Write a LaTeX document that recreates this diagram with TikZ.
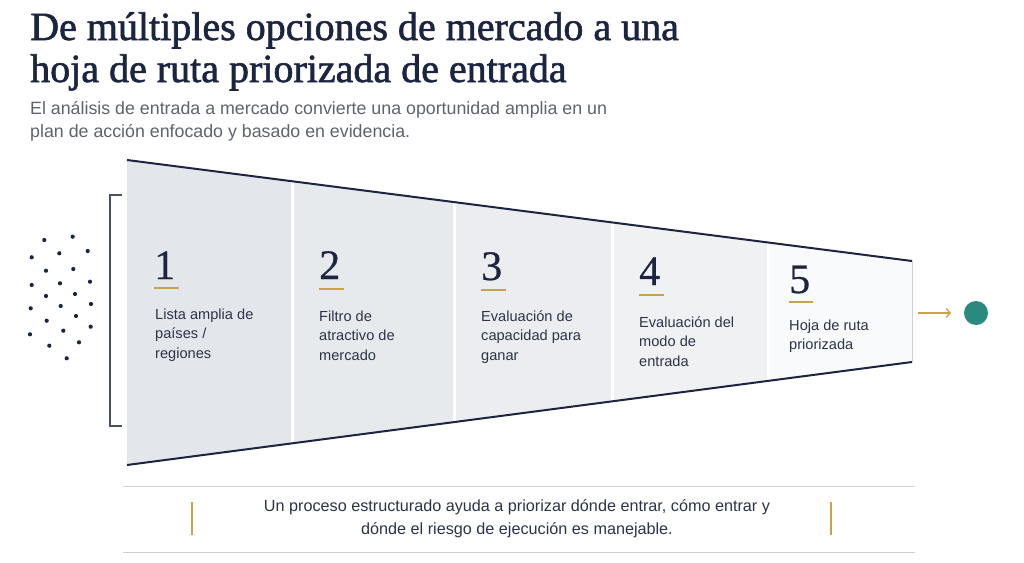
\documentclass[tikz,border=0pt]{standalone}
\usepackage{fontspec}
\setmainfont{Liberation Serif}
\setsansfont{Liberation Sans}
\usetikzlibrary{arrows.meta}
\definecolor{navy}{HTML}{1C2540}
\definecolor{subgray}{HTML}{5E636C}
\definecolor{labeltxt}{HTML}{2B3448}
\definecolor{gold}{HTML}{C9A24A}
\definecolor{teal}{HTML}{2A8A80}
\definecolor{pA}{HTML}{E3E6EA}
\definecolor{pB}{HTML}{E7EAED}
\definecolor{pC}{HTML}{EBEDF0}
\definecolor{pD}{HTML}{EFF1F3}
\definecolor{pE}{HTML}{F9FAFB}
\definecolor{rulegray}{HTML}{CDD0D5}
\tikzset{
  titletext/.style={anchor=base west, inner sep=0pt, text=navy, font=\fontsize{40}{42}\selectfont\addfontfeature{FakeBold=1.5}},
  subtext/.style={anchor=base west, inner sep=0pt, text=subgray, font=\sffamily\fontsize{17.8}{23}\selectfont},
  numtext/.style={anchor=base west, inner sep=0pt, text=navy, font=\fontsize{42}{42}\selectfont\addfontfeature{FakeBold=0.6}},
  labeltext/.style={anchor=base west, inner sep=0pt, text=labeltxt, align=left, font=\sffamily\fontsize{14.6}{19.5}\selectfont},
  goldline/.style={draw=gold, line width=2pt},
  dotstyle/.style={fill=navy, circle, inner sep=0pt, minimum size=4.2pt},
  sepline/.style={draw=white, line width=3pt},
  funnelline/.style={draw=navy, line width=2pt},
  bottomtext/.style={inner sep=0pt, text=labeltxt, align=center, font=\sffamily\fontsize{16.2}{23}\selectfont},
}
\begin{document}
\begin{tikzpicture}[x=1pt,y=-1pt]
\useasboundingbox[fill=white] (0,0) rectangle (1024,562);
% title
\node[titletext] (t1) at (30,40) {De múltiples opciones de mercado a una};
\node[titletext] (t2) at (30,82) {hoja de ruta priorizada de entrada};
\node[subtext] (s1) at (30,114) {El análisis de entrada a mercado convierte una oportunidad amplia en un};
\node[subtext] (s2) at (30,137) {plan de acción enfocado y basado en evidencia.};
% funnel panels
\begin{scope}
\clip (127,160) -- (912,261) -- (912,362) -- (127,465) -- cycle;
\fill[pA] (127,150) rectangle (292,470);
\fill[pB] (292,150) rectangle (454,470);
\fill[pC] (454,150) rectangle (612.5,470);
\fill[pD] (612.5,150) rectangle (768.5,470);
\fill[pE] (768.5,150) rectangle (912,470);
\draw[sepline] (292,150) -- (292,470);
\draw[sepline] (454,150) -- (454,470);
\draw[sepline] (612.5,150) -- (612.5,470);
\draw[sepline] (768.5,150) -- (768.5,470);
\end{scope}
\coordinate (ftl) at (127,160);
\coordinate (ftr) at (912,261);
\coordinate (fbl) at (127,465);
\coordinate (fbr) at (912,362);
\draw[draw=rulegray, line width=0.8pt] (ftr) -- (fbr);
\draw[funnelline] (ftl) -- (ftr);
\draw[funnelline] (fbl) -- (fbr);
% bracket
\draw[draw=navy!80, line width=1.2pt] (122,195) -- (110,195) -- (110,426) -- (122,426);
% dots
\foreach \x/\y [count=\i] in {44.3/240,72.7/236.7,31.7/257.3,59.3/253.3,87.7/251,46/270.7,73.3/269,31.7/285,60/283.3,90/281.7,46/296,75/294,30.7/308.3,60.7/306,91/304,46.7/320.7,76/316,30/334.3,63.3/330.7,90.7/326.7,49.3/345.7,79/342.3,66.7/358.3}
  \node[dotstyle] (dot\i) at (\x,\y) {};
% numbers
\node[numtext] (n1) at (154,279) {1};
\node[numtext] (n2) at (319,279) {2};
\node[numtext] (n3) at (481,280) {3};
\node[numtext] (n4) at (639,285) {4};
\node[numtext] (n5) at (789,293) {5};
\draw[goldline] (154,288) -- (179,288);
\draw[goldline] (319,289) -- (344,289);
\draw[goldline] (481,290) -- (506,290);
\draw[goldline] (639,295) -- (664,295);
\draw[goldline] (789,302) -- (813,302);
% labels (anchor = baseline of last line)
\node[labeltext] (l1) at (155,358) {Lista amplia de\\países /\\regiones};
\node[labeltext] (l2) at (319,360) {Filtro de\\atractivo de\\mercado};
\node[labeltext] (l3) at (481,360) {Evaluación de\\capacidad para\\ganar};
\node[labeltext] (l4) at (639,366) {Evaluación del\\modo de\\entrada};
\node[labeltext] (l5) at (789,349.5) {Hoja de ruta\\priorizada};
% arrow + circle
\coordinate (a0) at (918,313);
\coordinate (a1) at (951,313);
\draw[draw=gold, line width=1.3pt, -{Straight Barb[length=4pt,width=9pt]}] (a0) -- (a1);
\node[circle, fill=teal, inner sep=0pt, minimum size=24pt] (goal) at (976,313) {};
% bottom
\draw[draw=rulegray, line width=1pt] (123,486) -- (915,486);
\draw[draw=rulegray, line width=1pt] (123,552) -- (915,552);
\draw[draw=gold, line width=1.5pt] (192,502) -- (192,535);
\draw[draw=gold, line width=1.5pt] (831,502) -- (831,535);
\node[bottomtext] (bt) at (517,519) {Un proceso estructurado ayuda a priorizar dónde entrar, cómo entrar y\\dónde el riesgo de ejecución es manejable.};
\end{tikzpicture}
\end{document}
